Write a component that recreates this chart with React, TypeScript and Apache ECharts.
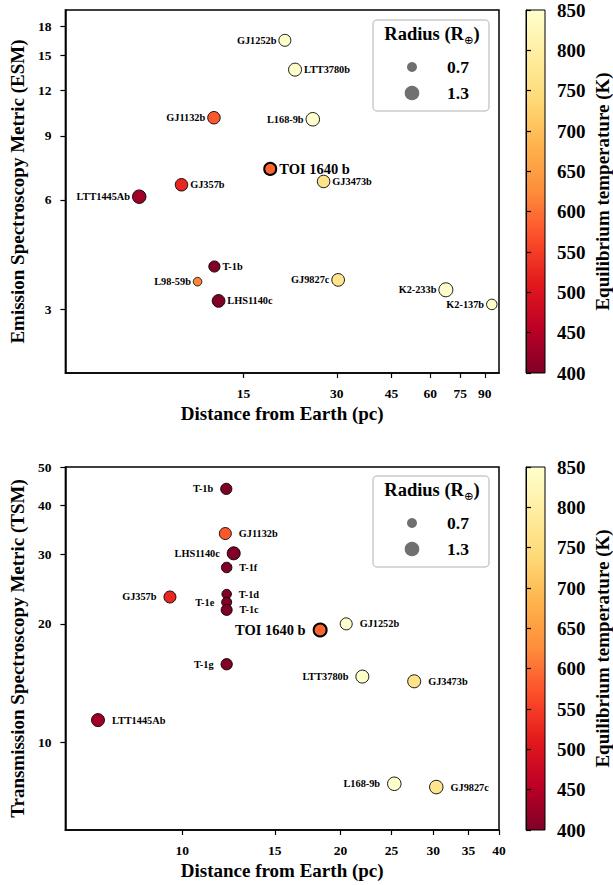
import React, { useEffect, useRef } from "react";
import * as echarts from "echarts";

const FONT = "'Liberation Serif', 'Times New Roman', serif";

// ---------- Panel 1: Emission Spectroscopy Metric ----------
const esmNames = ["GJ1252b", "LTT3780b", "GJ1132b", "L168-9b", "TOI 1640 b", "GJ357b", "LTT1445Ab", "GJ3473b", "T-1b", "L98-59b", "LHS1140c", "GJ9827c", "K2-233b", "K2-137b"];
const esmDistance = [20.4, 22.0, 12.05, 25.1, 18.3, 9.47, 6.92, 27.2, 12.09, 10.67, 12.47, 30.3, 67.4, 94.8];
const esmValue = [16.5, 13.7, 10.1, 10.0, 7.3, 6.6, 6.12, 6.74, 3.93, 3.57, 3.16, 3.61, 3.39, 3.09];
const esmTeq = [1089, 892, 578, 965, 588, 525, 430, 765, 400, 620, 230, 770, 1000, 1800];
const esmRadius = [1.2, 1.3, 1.25, 1.35, 1.2, 1.25, 1.35, 1.25, 1.12, 0.85, 1.27, 1.27, 1.4, 1.05];
const esmLeftLabels = ["GJ1252b", "GJ1132b", "L168-9b", "LTT1445Ab", "L98-59b", "GJ9827c", "K2-233b", "K2-137b"];
const esmXTicks = [15, 30, 45, 60, 75, 90];
const esmYTicks = [3, 6, 9, 12, 15, 18];
const esmXRange = [4, 100];
const esmYRange = [2, 20];

// ---------- Panel 2: Transmission Spectroscopy Metric ----------
const tsmNames = ["T-1b", "GJ1132b", "LHS1140c", "T-1f", "GJ357b", "T-1d", "T-1e", "T-1c", "TOI 1640 b", "GJ1252b", "T-1g", "LTT1445Ab", "LTT3780b", "GJ3473b", "L168-9b", "GJ9827c"];
const tsmDistance = [12.13, 12.08, 12.53, 12.15, 9.48, 12.15, 12.15, 12.15, 18.29, 20.5, 12.15, 6.92, 22.0, 27.6, 25.3, 30.4];
const tsmValue = [44.0, 33.9, 30.2, 27.8, 23.4, 23.8, 22.7, 21.7, 19.3, 20.0, 15.8, 11.4, 14.7, 14.3, 7.86, 7.71];
const tsmTeq = [400, 578, 230, 219, 525, 288, 251, 342, 588, 1089, 199, 430, 892, 765, 965, 770];
const tsmRadius = [1.12, 1.2, 1.3, 1.05, 1.2, 0.95, 1.0, 1.1, 1.3, 1.2, 1.13, 1.3, 1.3, 1.3, 1.35, 1.35];
const tsmRightLabels = ["GJ1132b", "T-1f", "T-1d", "T-1c", "GJ1252b", "LTT1445Ab", "GJ3473b", "GJ9827c"];
const tsmXTicks = [10, 15, 20, 25, 30, 35, 40];
const tsmYTicks = [10, 20, 30, 40, 50];
const tsmXRange = [6, 40];
const tsmYRange = [6, 50];

// ---------- Colour bar / legend ----------
const teqRange = [400, 850];
const teqTicks = [400, 450, 500, 550, 600, 650, 700, 750, 800, 850];
const cmap = ["#800026", "#bd0026", "#e31a1c", "#fc4e2a", "#fd8d3c", "#feb24c", "#fed976", "#ffeda0", "#ffffcc"];
const legendRadii = [0.7, 1.3];
const HIGHLIGHT = "TOI 1640 b";

const lg = (v: number) => Math.log10(v);
const clampT = (t: number) => Math.min(teqRange[1], Math.max(teqRange[0], t));

function makeSeries(names: string[], dist: number[], metric: number[], teq: number[], radius: number[], isLeft: (n: string) => boolean, idx: number, labelDist: number) {
  return {
    type: "scatter",
    xAxisIndex: idx,
    yAxisIndex: idx,
    symbolSize: (v: any[]) => v[3] * 10,
    data: names.map((n, i) => {
      const hl = n === HIGHLIGHT;
      return {
        value: [lg(dist[i]), lg(metric[i]), clampT(teq[i]), radius[i], n],
        itemStyle: { borderColor: "#000", borderWidth: hl ? 2 : 0.9, opacity: 1 },
        label: { position: isLeft(n) ? "left" : "right", fontSize: hl ? 14.5 : 10.3 },
      };
    }),
    label: {
      show: true,
      formatter: (p: any) => p.value[4],
      fontFamily: FONT,
      fontWeight: "bold",
      color: "#000",
      distance: labelDist,
    },
    emphasis: { disabled: true },
  };
}

function tickAxis(gridIndex: number, range: number[], ticks: number[], isX: boolean, name: string, nameGap: number, margin: number) {
  const custom = ticks.map(lg);
  return {
    type: "value",
    gridIndex,
    min: lg(range[0]),
    max: lg(range[1]),
    name,
    nameLocation: "middle",
    nameGap,
    nameRotate: isX ? 0 : 90,
    nameTextStyle: { fontFamily: FONT, fontWeight: "bold", fontSize: 19, color: "#000" },
    axisLine: { show: true, onZero: false, lineStyle: { color: "#000", width: 1.5 } },
    axisTick: { show: true, inside: false, length: 5, customValues: custom, lineStyle: { color: "#000", width: 1.2 } },
    axisLabel: {
      show: true,
      customValues: custom,
      margin,
      fontFamily: FONT,
      fontWeight: "bold",
      fontSize: 13.5,
      color: "#000",
      formatter: (v: number) => String(Math.round(Math.pow(10, v))),
    },
    splitLine: { show: false },
  };
}

function legendGraphics(top: number) {
  const sizeOf = (r: number) => 7.8 * r + 4.5;
  const items: any[] = [
    {
      type: "rect",
      shape: { x: 373, y: top, width: 116, height: 91, r: 4 },
      style: { fill: "rgba(255,255,255,0.8)", stroke: "#cccccc", lineWidth: 1.5 },
      z: 100,
    },
    {
      type: "text",
      x: 432,
      y: top + 15,
      z: 101,
      style: {
        text: "{a|Radius (R}{b|⊕}{a|)}",
        align: "center",
        verticalAlign: "middle",
        rich: {
          a: { fontFamily: FONT, fontWeight: "bold", fontSize: 18.5, lineHeight: 21, verticalAlign: "top", fill: "#000" },
          b: { fontFamily: "DejaVu Sans", fontSize: 11.5, lineHeight: 11, padding: [13, 0, 0, 0], verticalAlign: "bottom", fill: "#000" },
        },
      },
    },
  ];
  legendRadii.forEach((r, i) => {
    const cy = top + 47 + i * 26;
    items.push({ type: "circle", shape: { cx: 412, cy, r: sizeOf(r) / 2 }, style: { fill: "#707070" }, z: 101 });
    items.push({
      type: "text",
      x: 447,
      y: cy,
      z: 101,
      style: { text: r.toFixed(1), fontFamily: FONT, fontWeight: "bold", fontSize: 17.5, fill: "#000", align: "left", verticalAlign: "middle" },
    });
  });
  return items;
}

function colorbarAxis(gridIndex: number) {
  return {
    type: "value",
    gridIndex,
    position: "right",
    min: teqRange[0],
    max: teqRange[1],
    interval: 50,
    name: "Equilibrium temperature (K)",
    nameLocation: "middle",
    nameGap: 48,
    nameRotate: 90,
    nameTextStyle: { fontFamily: FONT, fontWeight: "bold", fontSize: 19, color: "#000" },
    axisLine: { show: true, lineStyle: { color: "#000", width: 1 } },
    axisTick: { show: true, inside: false, length: 5, lineStyle: { color: "#000", width: 1.2 } },
    axisLabel: { show: true, margin: 12, fontFamily: FONT, fontWeight: "bold", fontSize: 19, color: "#000", customValues: teqTicks },
    splitLine: { show: false },
  };
}

export default function App() {
  const ref = useRef<HTMLDivElement>(null);
  useEffect(() => {
    if (!ref.current) return;
    const chart = echarts.init(ref.current, null, { renderer: "svg" });
    const gradStops = cmap.map((c, i) => ({ offset: 1 - i / (cmap.length - 1), color: c }));
    const grad = () => new echarts.graphic.LinearGradient(0, 0, 0, 1, gradStops.slice().sort((a, b) => a.offset - b.offset));
    chart.setOption({
      animation: false,
      textStyle: { fontFamily: FONT },
      grid: [
        { left: 63, top: 10, width: 436, height: 363, show: true, borderColor: "#000", borderWidth: 1.5, backgroundColor: "transparent" },
        { left: 63, top: 467, width: 436, height: 363, show: true, borderColor: "#000", borderWidth: 1.5, backgroundColor: "transparent" },
        { left: 526, top: 10, width: 19, height: 363, show: true, borderColor: "#000", borderWidth: 1, backgroundColor: grad() },
        { left: 526, top: 467, width: 19, height: 363, show: true, borderColor: "#000", borderWidth: 1, backgroundColor: grad() },
      ],
      xAxis: [
        tickAxis(0, esmXRange, esmXTicks, true, "Distance from Earth (pc)", 31, 13),
        tickAxis(1, tsmXRange, tsmXTicks, true, "Distance from Earth (pc)", 31, 13),
        { type: "value", gridIndex: 2, min: 0, max: 1, show: false },
        { type: "value", gridIndex: 3, min: 0, max: 1, show: false },
      ],
      yAxis: [
        tickAxis(0, esmYRange, esmYTicks, false, "Emission Spectroscopy Metric (ESM)", 35, 14),
        tickAxis(1, tsmYRange, tsmYTicks, false, "Transmission Spectroscopy Metric (TSM)", 35, 14),
        colorbarAxis(2),
        colorbarAxis(3),
      ],
      visualMap: [
        {
          type: "continuous",
          show: false,
          min: teqRange[0],
          max: teqRange[1],
          dimension: 2,
          seriesIndex: [0, 1],
          inRange: { color: cmap },
        },
      ],
      series: [
        makeSeries(esmNames, esmDistance, esmValue, esmTeq, esmRadius, (n) => esmLeftLabels.includes(n), 0, 2),
        makeSeries(tsmNames, tsmDistance, tsmValue, tsmTeq, tsmRadius, (n) => !tsmRightLabels.includes(n), 1, 7),
      ],
      graphic: [...legendGraphics(20), ...legendGraphics(476)],
    });
    return () => chart.dispose();
  }, []);
  return <div ref={ref} style={{ position: "fixed", left: 0, top: 0, width: 613, height: 885, background: "#fff" }} />;
}
